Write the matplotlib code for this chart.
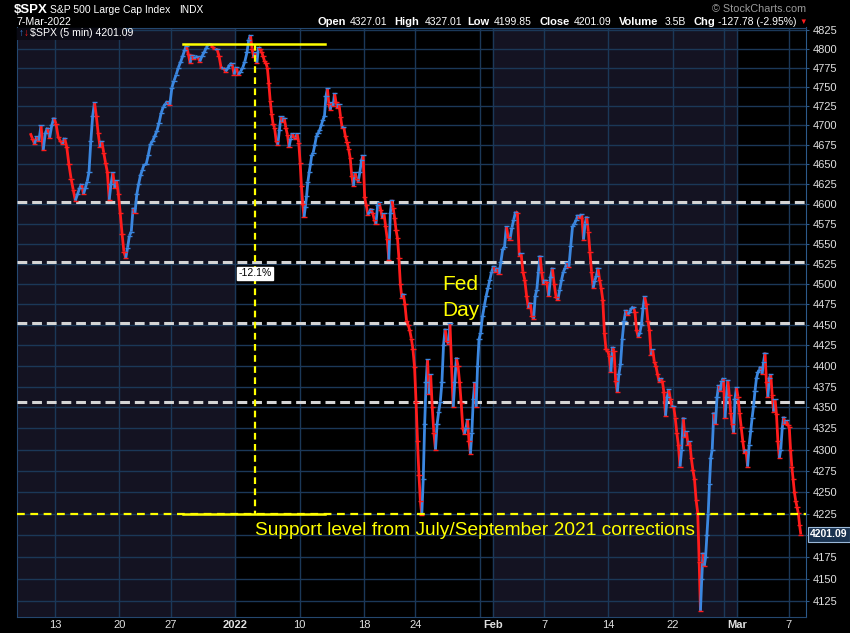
import matplotlib.pyplot as plt
from matplotlib.collections import LineCollection
from matplotlib.patches import Rectangle
from matplotlib.ticker import NullLocator

plt.rcParams['font.family'] = ['Liberation Sans', 'DejaVu Sans']

# trading days shown on the chart
days = ['Dec 9', 'Dec 10', 'Dec 13', 'Dec 14', 'Dec 15', 'Dec 16', 'Dec 17',
        'Dec 20', 'Dec 21', 'Dec 22', 'Dec 23', 'Dec 27', 'Dec 28', 'Dec 29',
        'Dec 30', 'Dec 31', 'Jan 3', 'Jan 4', 'Jan 5', 'Jan 6', 'Jan 7',
        'Jan 10', 'Jan 11', 'Jan 12', 'Jan 13', 'Jan 14', 'Jan 18', 'Jan 19',
        'Jan 20', 'Jan 21', 'Jan 24', 'Jan 25', 'Jan 26', 'Jan 27', 'Jan 28',
        'Jan 31', 'Feb 1', 'Feb 2', 'Feb 3', 'Feb 4', 'Feb 7', 'Feb 8',
        'Feb 9', 'Feb 10', 'Feb 11', 'Feb 14', 'Feb 15', 'Feb 16', 'Feb 17',
        'Feb 18', 'Feb 22', 'Feb 23', 'Feb 24', 'Feb 25', 'Feb 28', 'Mar 1',
        'Mar 2', 'Mar 3', 'Mar 4', 'Mar 7']

# intraday prices, a few per session
prices = [
    [4690, 4683, 4676, 4686, 4680, 4700],
    [4668, 4690, 4697, 4684, 4700, 4710],
    [4702, 4685, 4680, 4676, 4684, 4672],
    [4650, 4632, 4618, 4604, 4612, 4620],
    [4625, 4612, 4620, 4628, 4640, 4680, 4712],
    [4730, 4712, 4690, 4672, 4680, 4665, 4652],
    [4640, 4605, 4625, 4640, 4620, 4630, 4612],
    [4588, 4562, 4540, 4532, 4545, 4560, 4565],
    [4595, 4588, 4612, 4625, 4636, 4643, 4650],
    [4650, 4662, 4676, 4680, 4686, 4693],
    [4703, 4716, 4724, 4728, 4731, 4726],
    [4749, 4758, 4766, 4775, 4782, 4790],
    [4798, 4804, 4793, 4781, 4792, 4786, 4789],
    [4790, 4783, 4790, 4795, 4801, 4806],
    [4806, 4802, 4800, 4800, 4790, 4774],
    [4775, 4770, 4774, 4779, 4781, 4766],
    [4776, 4765, 4770, 4775, 4783, 4795],
    [4812, 4818, 4800, 4789, 4795, 4781, 4802, 4800],
    [4796, 4790, 4784, 4781, 4775, 4755, 4732, 4715, 4702],
    [4697, 4680, 4675, 4694, 4712, 4704, 4710, 4697],
    [4688, 4672, 4683, 4690, 4685, 4682, 4690, 4678],
    [4652, 4622, 4600, 4583, 4596, 4610, 4628, 4640, 4650, 4662],
    [4665, 4675, 4686, 4690, 4694, 4700, 4707, 4712],
    [4738, 4748, 4728, 4720, 4730, 4725, 4742, 4730, 4722],
    [4728, 4711, 4697, 4698, 4686, 4679, 4670, 4658],
    [4635, 4622, 4640, 4632, 4628, 4640, 4655, 4662],
    [4608, 4598, 4586, 4590, 4594, 4588, 4580, 4574],
    [4598, 4602, 4592, 4582, 4588, 4572, 4556, 4530],
    [4588, 4605, 4595, 4582, 4567, 4557, 4532, 4500, 4483],
    [4488, 4475, 4455, 4450, 4443, 4433, 4420, 4398],
    [4356, 4310, 4270, 4240, 4223, 4265, 4330, 4380, 4408],
    [4366, 4390, 4350, 4320, 4300, 4330, 4345, 4357],
    [4380, 4425, 4445, 4430, 4427, 4452, 4400, 4350],
    [4380, 4410, 4400, 4380, 4355, 4325, 4318, 4326],
    [4336, 4310, 4295, 4320, 4360, 4380, 4350, 4400, 4432],
    [4440, 4460, 4473, 4485, 4495, 4505, 4515],
    [4522, 4515, 4520, 4512, 4527, 4543, 4546],
    [4572, 4558, 4555, 4570, 4580, 4590, 4589],
    [4535, 4538, 4515, 4505, 4485, 4470, 4477],
    [4460, 4457, 4485, 4493, 4515, 4535, 4515, 4500],
    [4505, 4502, 4485, 4508, 4520, 4500, 4484],
    [4480, 4493, 4505, 4515, 4520, 4527, 4521],
    [4547, 4572, 4575, 4580, 4586, 4582, 4587],
    [4555, 4575, 4584, 4565, 4540, 4515, 4495, 4504],
    [4510, 4520, 4505, 4495, 4480, 4440, 4420, 4418],
    [4412, 4392, 4423, 4418, 4382, 4368, 4390, 4402],
    [4432, 4455, 4468, 4462, 4465, 4470, 4472],
    [4465, 4443, 4435, 4440, 4450, 4470, 4485, 4475],
    [4455, 4443, 4413, 4420, 4405, 4400, 4390, 4381],
    [4385, 4382, 4368, 4340, 4362, 4372, 4360, 4351],
    [4352, 4338, 4320, 4305, 4280, 4300, 4338, 4315],
    [4322, 4305, 4310, 4290, 4276, 4265, 4241, 4226],
    [4170, 4114, 4150, 4180, 4165, 4175, 4200, 4225, 4260, 4290],
    [4300, 4344, 4330, 4362, 4377, 4370, 4382, 4385],
    [4337, 4362, 4383, 4365, 4344, 4330, 4320, 4360, 4374],
    [4363, 4344, 4327, 4310, 4296, 4300, 4280, 4306],
    [4322, 4338, 4352, 4370, 4385, 4392, 4395, 4399, 4390],
    [4405, 4416, 4380, 4362, 4385, 4390, 4365, 4345, 4360],
    [4342, 4310, 4290, 4300, 4325, 4339, 4330, 4335, 4329],
    [4327, 4300, 4280, 4265, 4250, 4240, 4233, 4226, 4212, 4201],
]

# date axis labels
tick_days = ['Dec 13', 'Dec 20', 'Dec 27', 'Jan 3', 'Jan 10', 'Jan 18', 'Jan 24',
             'Jan 31', 'Feb 1', 'Feb 7', 'Feb 14', 'Feb 22', 'Feb 28', 'Mar 1', 'Mar 7']
tick_labels = ['13', '20', '27', '2022', '10', '18', '24', '', 'Feb', '7', '14', '22', '', 'Mar', '7']
bold_labels = ['2022', 'Feb', 'Mar']

price_ticks = list(range(4125, 4826, 25))

# drawn levels
white_levels = [4602, 4527, 4452, 4356]
support = 4225
peak_level = 4806
last_close = 4201.09

BG = '#141322'
GRID = '#1b3858'
UP = '#3b87e0'
DOWN = '#ff1c1c'

fig = plt.figure(figsize=(8.5, 6.33), dpi=100, facecolor='black')
ax = fig.add_axes([17 / 850, 16 / 633, 789 / 850, 589.5 / 633])
ax.set_facecolor('black')

# price path
xs, ys = [], []
for i, day in enumerate(prices):
    n = len(day)
    for k, p in enumerate(day):
        xs.append(i + (k + 0.5) / n)
        ys.append(p)
segs, cols = [], []
for j in range(1, len(xs)):
    segs.append([(xs[j - 1], ys[j - 1]), (xs[j], ys[j])])
    cols.append(UP if ys[j] >= ys[j - 1] else DOWN)
ax.add_collection(LineCollection(segs, colors=cols, linewidths=2.0, zorder=4))
ax.scatter(xs[1:], ys[1:], marker='_', s=14, linewidths=1.0, c=cols, zorder=4)

ax.set_yscale('log')
ax.set_xlim(-0.95, 60.35)
ax.set_ylim(4107, 4828)

# month shading
ax.axvspan(-0.95, days.index('Jan 3'), color=BG, zorder=0)
ax.axvspan(days.index('Feb 1'), days.index('Mar 1'), color=BG, zorder=0)

# axes ticks
ax.yaxis.tick_right()
ax.set_yticks(price_ticks)
ax.set_yticklabels(['' if p == 4200 else str(p) for p in price_ticks])
ax.yaxis.set_minor_locator(NullLocator())
ax.set_xticks([days.index(d) for d in tick_days])
ax.set_xticklabels(tick_labels)
for lab in ax.get_xticklabels():
    if lab.get_text() in bold_labels:
        lab.set_fontweight('bold')
ax.tick_params(axis='y', colors='#e0e0e0', labelsize=8, length=2, pad=3, color='#2c5a8a')
ax.tick_params(axis='x', colors='#e0e0e0', labelsize=8, length=0, pad=2)
ax.grid(True, color=GRID, linewidth=1, zorder=1)
ax.set_axisbelow(True)
for s in ax.spines.values():
    s.set_color('#24476e')
ax.spines['right'].set_color('#2c5a8a')

# horizontal levels
for lvl in white_levels:
    ax.axhline(lvl, color='#d4d4d4', lw=2.2, dashes=(3.2, 1.6), zorder=3)
ax.axhline(support, color='#ffff00', lw=1.6, dashes=(3.5, 2.5), zorder=5)

# peak-to-support annotation
ax.plot([11.95, 22.98], [peak_level, peak_level], color='#ffff00', lw=1.8, zorder=5)
ax.plot([11.95, 22.98], [support, support], color='#ffff00', lw=1.8, zorder=5)
ax.plot([17.55, 17.55], [peak_level, support], color='#ffff00', lw=1.6,
        dashes=(3, 2), zorder=5)
ax.text(17.55, 4513, '-12.1%', color='black', fontsize=7.5, ha='center', va='center',
        zorder=6, bbox=dict(boxstyle='square,pad=0.15', fc='white', ec='white'))

ax.text(32.1, 4499, 'Fed', color='#ffff00', fontsize=15, ha='left', va='center', zorder=6)
ax.text(32.1, 4467, 'Day', color='#ffff00', fontsize=15, ha='left', va='center', zorder=6)
ax.text(17.55, 4206, 'Support level from July/September 2021 corrections', color='#ffff00',
        fontsize=13.8, ha='left', va='center', zorder=6)

# last price box
ax.annotate(f'{last_close:.2f}', xy=(1, last_close), xycoords=('axes fraction', 'data'),
            xytext=(3, 0), textcoords='offset points', color='white', fontsize=7.5,
            fontweight='bold', va='center', ha='left', annotation_clip=False,
            bbox=dict(boxstyle='square,pad=0.2', fc='#1a3350', ec='#9bb8d8', lw=0.8))

# legend tag
ax.add_patch(Rectangle((0, 1 - 12 / 589.5), 108 / 789, 12 / 589.5, transform=ax.transAxes,
                       facecolor='#0a0a14', edgecolor='none', zorder=7))
ax.text(13 / 789, 1 - 6 / 589.5, '$SPX (5 min) 4201.09', transform=ax.transAxes,
        color='white', fontsize=7.6, ha='left', va='center', zorder=8)
ax.text(1.5 / 789, 1 - 6 / 589.5, '\u2191', transform=ax.transAxes, color=UP,
        fontsize=7, ha='left', va='center', zorder=8)
ax.text(6.5 / 789, 1 - 6 / 589.5, '\u2193', transform=ax.transAxes, color=DOWN,
        fontsize=7, ha='left', va='center', zorder=8)


def px(x, y):
    return x / 850, 1 - y / 633


# header
fig.text(*px(14, 10), '$SPX', color='white', fontsize=9.5, fontweight='bold', va='center')
fig.text(*px(50, 10), 'S&P 500 Large Cap Index', color='white', fontsize=7.5, va='center')
fig.text(*px(179, 10), 'INDX', color='white', fontsize=7.3, va='center')
fig.text(*px(16, 22), '7-Mar-2022', color='white', fontsize=7.7, va='center')
fig.text(*px(806, 9), '\u00a9 StockCharts.com', color='#9a9a9a', fontsize=7.8,
         va='center', ha='right')

header = [(318, 'Open', True), (350, '4327.01', False), (394, 'High', True),
          (425, '4327.01', False), (467, 'Low', True), (494, '4199.85', False),
          (539, 'Close', True), (574, '4201.09', False), (619, 'Volume', True),
          (665, '3.5B', False), (693, 'Chg', True), (718, '-127.78 (-2.95%)', False)]
for hx, txt, b in header:
    fig.text(*px(hx, 22), txt, color='white', fontsize=8 if b else 7.5,
             fontweight='bold' if b else 'normal', va='center')
fig.text(*px(803, 22), '\u25bc', color=DOWN, fontsize=5.5, va='center', ha='center')

fig.savefig('out.png', dpi=100, facecolor='black')
